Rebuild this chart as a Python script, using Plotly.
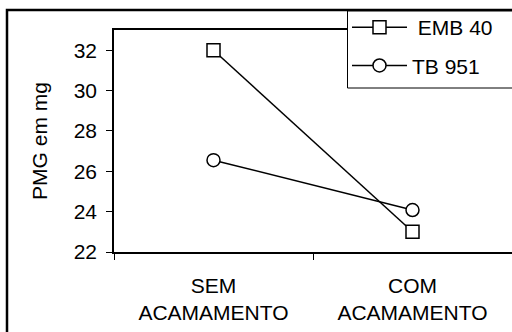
import plotly.graph_objects as go

categories = ["SEM<br>ACAMAMENTO", "COM<br>ACAMAMENTO"]
emb40 = [32.0, 23.0]
tb951 = [26.55, 24.08]
y_ticks = [22, 24, 26, 28, 30, 32]
series_names = ["\u00a0EMB 40", "TB 951"]

FONT = "Liberation Sans, Arial, sans-serif"
FS = 21

fig = go.Figure()
fig.add_trace(go.Scatter(
    x=categories, y=emb40, name=series_names[0], mode="lines+markers",
    line=dict(color="black", width=1.5),
    marker=dict(symbol="square", size=13, color="white", line=dict(color="black", width=1.5)),
    legendgroup="a",
))
fig.add_trace(go.Scatter(
    x=categories, y=tb951, name=series_names[1], mode="lines+markers",
    line=dict(color="black", width=1.5),
    marker=dict(symbol="circle", size=13, color="white", line=dict(color="black", width=1.5)),
    legendgroup="b",
))

L, T, B = 114, 30, 80
W, H = 512, 332
pw = W - L
ph = H - T - B


def px_x(p):
    return (p - L) / pw


def px_y(p):
    return (H - B - p) / ph


# outer frame
fig.add_shape(type="rect", xref="paper", yref="paper",
              x0=px_x(7), x1=1.1, y0=-0.6, y1=px_y(10),
              line=dict(color="black", width=2.5), fillcolor="rgba(0,0,0,0)", layer="below")
# legend box (runs off the right edge like the reference)
fig.add_shape(type="rect", xref="paper", yref="paper",
              x0=px_x(347.5), x1=1.1, y0=px_y(88), y1=px_y(11),
              line=dict(color="black", width=1), fillcolor="white", layer="above")

fig.update_layout(
    width=W, height=H,
    margin=dict(l=L, r=0, t=T, b=B, autoexpand=False),
    paper_bgcolor="white", plot_bgcolor="white",
    font=dict(family=FONT, size=FS, color="black"),
    showlegend=True,
    legend=dict(
        x=px_x(347), y=px_y(7), xanchor="left", yanchor="top",
        borderwidth=0, bgcolor="rgba(0,0,0,0)",
        font=dict(size=FS), tracegroupgap=8, traceorder="grouped",
        itemwidth=55,
    ),
    xaxis=dict(
        type="category", range=[-0.5, 1.5], tickson="boundaries",
        showline=True, linecolor="black", linewidth=1.5, mirror=True,
        ticks="outside", ticklen=6, tickcolor="black", tickwidth=1,
        showgrid=False, zeroline=False, tickfont=dict(size=FS),
        ticklabelstandoff=14,
    ),
    yaxis=dict(
        range=[22, 33], tickvals=y_ticks,
        showline=True, linecolor="black", linewidth=1.5, mirror=False,
        ticks="outside", ticklen=6, tickcolor="black", tickwidth=1,
        showgrid=False, zeroline=False, tickfont=dict(size=FS),
        title=dict(text="PMG em mg", font=dict(size=FS), standoff=20),
        ticklabelstandoff=5,
    ),
)

fig.write_html("out.html", config={"displayModeBar": False},
               post_script="document.body.style.margin='0';")
